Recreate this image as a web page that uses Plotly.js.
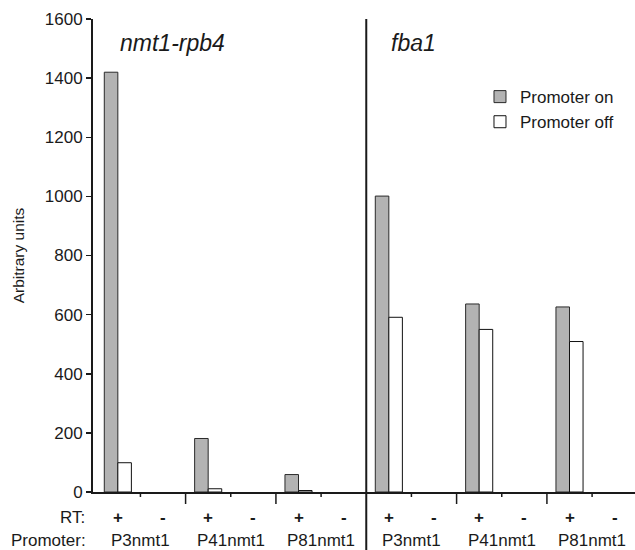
<!DOCTYPE html>
<html>
<head>
<meta charset="utf-8">
<script src="https://cdn.plot.ly/plotly-3.0.1.min.js"></script>
<style>html,body{margin:0;padding:0;background:#fff;}#chart{width:635px;height:550px;}</style>
</head>
<body>
<div id="chart"></div>
<script>
// ---- data ----
const slots = [
  'nmt1-rpb4 P3nmt1 +', 'nmt1-rpb4 P3nmt1 -',
  'nmt1-rpb4 P41nmt1 +', 'nmt1-rpb4 P41nmt1 -',
  'nmt1-rpb4 P81nmt1 +', 'nmt1-rpb4 P81nmt1 -',
  'fba1 P3nmt1 +', 'fba1 P3nmt1 -',
  'fba1 P41nmt1 +', 'fba1 P41nmt1 -',
  'fba1 P81nmt1 +', 'fba1 P81nmt1 -'
];
const rtLabels = ['+', '-', '+', '-', '+', '-', '+', '-', '+', '-', '+', '-'];
const promoterLabels = ['P3nmt1', 'P41nmt1', 'P81nmt1', 'P3nmt1', 'P41nmt1', 'P81nmt1'];
const panelLabels = ['nmt1-rpb4', 'fba1'];
const promoterOn  = [1420, 0, 181, 0, 59, 0, 1001, 0, 636, 0, 626, 0];
const promoterOff = [99, 0, 11, 0, 5, 0, 591, 0, 550, 0, 509, 0];
const yTicks = [0, 200, 400, 600, 800, 1000, 1200, 1400, 1600];

// ---- chart ----
const FONT = 'Liberation Sans, Arial, Helvetica, sans-serif';
const TXT = '#1a1a1a';
const PLOT_H = 550 - 19 - 58;

const traces = [
  {type: 'bar', name: 'Promoter on', x: slots, y: promoterOn, legendgroup: 'on',
   marker: {color: '#b3b3b3', line: {color: '#2a2a2a', width: promoterOn.map(v => v > 0 ? 1 : 0)}}},
  {type: 'bar', name: 'Promoter off', x: slots, y: promoterOff, legendgroup: 'off',
   marker: {color: '#ffffff', line: {color: '#111111', width: promoterOff.map(v => v > 0 ? 1 : 0)}}}
];

const annotations = [];
slots.forEach((s, i) => {
  annotations.push({x: s, xref: 'x', y: -0.053, yref: 'paper', text: '<b>' + rtLabels[i] + '</b>',
    showarrow: false, xanchor: 'center', yanchor: 'middle', font: {size: 17, family: FONT, color: TXT}});
});
promoterLabels.forEach((p, k) => {
  annotations.push({x: 2 * k + 0.5, xref: 'x', y: -0.102, yref: 'paper', text: p,
    showarrow: false, xanchor: 'center', yanchor: 'middle', font: {size: 17, family: FONT, color: TXT}});
});
annotations.push({x: -0.011, xref: 'paper', y: -0.053, yref: 'paper', text: 'RT:', showarrow: false,
  xanchor: 'right', yanchor: 'middle', font: {size: 17, family: FONT, color: TXT}});
annotations.push({x: -0.009, xref: 'paper', y: -0.102, yref: 'paper', text: 'Promoter:', showarrow: false,
  xanchor: 'right', yanchor: 'middle', font: {size: 17, family: FONT, color: TXT}});
panelLabels.forEach((t, k) => {
  annotations.push({x: 6 * k, xref: 'x', y: 0.949, yref: 'paper', text: '<i>' + t + '</i>', showarrow: false,
    xanchor: 'left', yanchor: 'middle', font: {size: 23, family: FONT, color: TXT}});
});

const shapes = [];
// panel divider
shapes.push({type: 'line', xref: 'x', x0: 5.5, x1: 5.5, yref: 'paper', y0: 1, y1: -0.123,
  line: {color: '#1a1a1a', width: 2}});
// category ticks (short within a promoter pair, long between pairs)
[0.5, 2.5, 4.5, 6.5, 8.5, 10.5].forEach(b => shapes.push({type: 'line', xref: 'x', x0: b, x1: b,
  yref: 'paper', y0: 0, y1: -5 / PLOT_H, line: {color: '#1a1a1a', width: 1.5}}));
[1.5, 3.5, 7.5, 9.5].forEach(b => shapes.push({type: 'line', xref: 'x', x0: b, x1: b,
  yref: 'paper', y0: 0, y1: -12 / PLOT_H, line: {color: '#1a1a1a', width: 1.5}}));

const layout = {
  width: 635, height: 550,
  margin: {l: 93, r: 0, t: 19, b: 58, autoexpand: false},
  paper_bgcolor: '#ffffff', plot_bgcolor: '#ffffff',
  font: {family: FONT, color: TXT, size: 17},
  barmode: 'group', bargap: 0.4, bargroupgap: 0,
  xaxis: {type: 'category', categoryorder: 'array', categoryarray: slots,
    range: [-0.55, 11.45], showticklabels: false, ticks: '', showgrid: false, zeroline: false,
    showline: true, linecolor: '#1a1a1a', linewidth: 1.5, fixedrange: true},
  yaxis: {range: [0, 1600], tickvals: yTicks, ticks: 'outside', ticklen: 5, tickwidth: 1.5,
    tickcolor: '#1a1a1a', showgrid: false, zeroline: false, showline: true, linecolor: '#1a1a1a',
    linewidth: 2, tickfont: {size: 17, family: FONT, color: TXT},
    title: {text: 'Arbitrary units', font: {size: 15.5, family: FONT, color: TXT}, standoff: 16}},
  showlegend: true,
  legend: {x: 0.714, y: 0.873, xanchor: 'left', yanchor: 'top',
    font: {size: 17, family: FONT, color: TXT}, bgcolor: 'rgba(0,0,0,0)', tracegroupgap: 6,
    traceorder: 'normal'},
  annotations: annotations,
  shapes: shapes
};

Plotly.newPlot('chart', traces, layout, {staticPlot: true, displayModeBar: false});
</script>
</body>
</html>
